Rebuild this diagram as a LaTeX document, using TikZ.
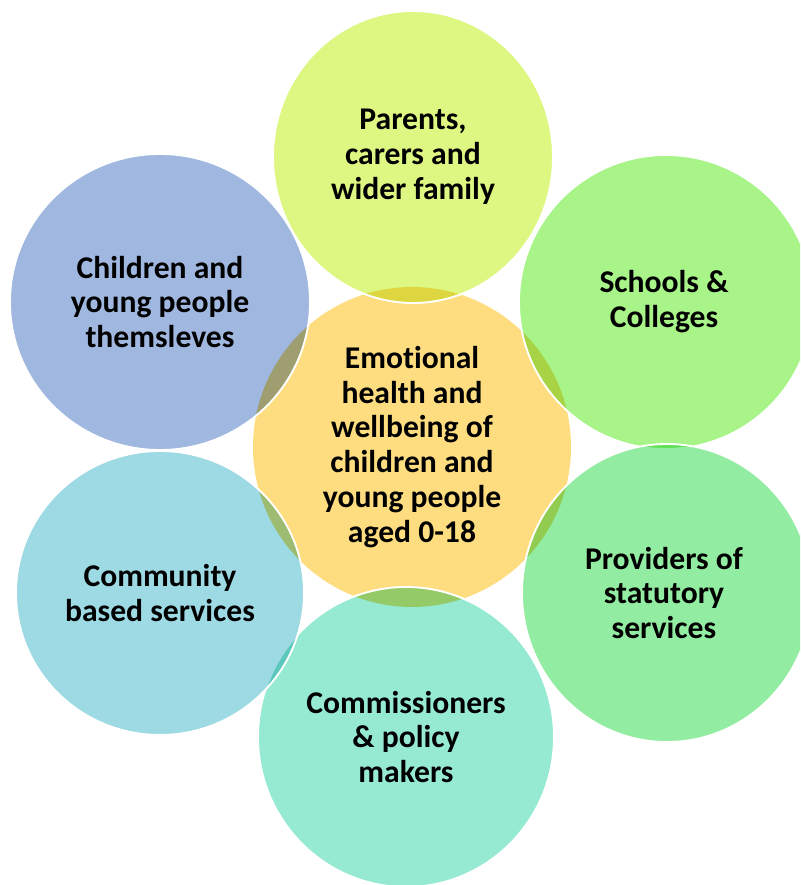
\documentclass[tikz,border=0pt]{standalone}
\usepackage{fontspec}
\setmainfont{Carlito}[Ligatures={NoCommon,NoRequired,NoContextual}]
\usepackage{tikz}
\tikzset{%
  every bubble/.style={
    blend mode=multiply
  },
  bubble rim/.style={
    draw=white,
    line width=1.6pt
  },
  bubble text/.style={
    align=center,
    text=black,
    font=\bfseries\fontsize{27}{29.8}\selectfont
  },
}
\definecolor{coreyellow}{RGB}{254,221,128}
\definecolor{parentlime}{RGB}{222,247,130}
\definecolor{schoolgreen}{RGB}{168,244,136}
\definecolor{providergreen}{RGB}{146,236,162}
\definecolor{commishteal}{RGB}{150,234,210}
\definecolor{communitycyan}{RGB}{158,218,228}
\definecolor{childblue}{RGB}{160,183,224}

\begin{document}
\begin{tikzpicture}[x=0.03cm, y=0.03cm]
\useasboundingbox (0,0) rectangle (800,885);
\clip (0,0) rectangle (800,885);

    \fill[every bubble, coreyellow] (412,438) ellipse [x radius=159, y radius=160];

    \fill[every bubble, parentlime] (413,728) ellipse [x radius=140, y radius=146];
    \draw[bubble rim] (413,728) ellipse [x radius=140, y radius=146];
    \fill[every bubble, schoolgreen] (666,583) ellipse [x radius=147, y radius=147];
    \draw[bubble rim] (666,583) ellipse [x radius=147, y radius=147];
    \fill[every bubble, providergreen] (667,292) ellipse [x radius=145, y radius=149];
    \draw[bubble rim] (667,292) ellipse [x radius=145, y radius=149];
    \fill[every bubble, commishteal] (406,148) ellipse [x radius=148, y radius=150];
    \draw[bubble rim] (406,148) ellipse [x radius=148, y radius=150];
    \fill[every bubble, communitycyan] (160,292) ellipse [x radius=144, y radius=142];
    \draw[bubble rim] (160,292) ellipse [x radius=144, y radius=142];
    \fill[every bubble, childblue] (160,583) ellipse [x radius=150, y radius=148];
    \draw[bubble rim] (160,583) ellipse [x radius=150, y radius=148];

    \node[bubble text] (core) at (412,438) {Emotional\\health and\\wellbeing of\\children and\\young people\\aged 0-18};
    \node[bubble text] (parents) at (413,728) {Parents,\\carers and\\wider family};
    \node[bubble text] (schools) at (664,583) {Schools \&\\Colleges};
    \node[bubble text] (providers) at (664,292) {Providers of\\statutory\\services};
    \node[bubble text] (commish) at (406,148) {Commissioners\\\& policy\\makers};
    \node[bubble text] (community) at (160,292) {Community\\based services};
    \node[bubble text] (children) at (160,583) {Children and\\young people\\themsleves};
\end{tikzpicture}
\end{document}
